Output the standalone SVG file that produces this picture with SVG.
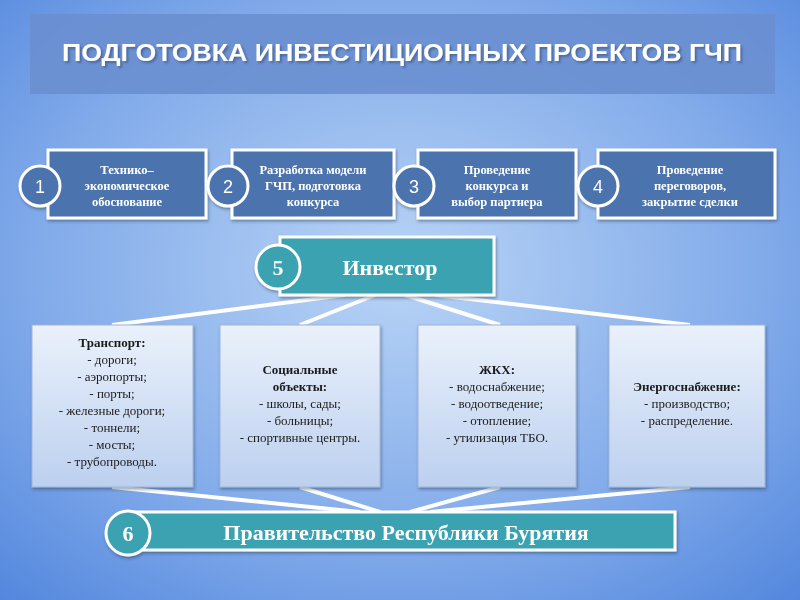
<svg xmlns="http://www.w3.org/2000/svg" width="800" height="600" viewBox="0 0 800 600">
<defs>
<radialGradient id="bg" cx="0.5" cy="0.45" r="0.75">
<stop offset="0" stop-color="#b9d4f6"/><stop offset="0.6" stop-color="#82abea"/><stop offset="1" stop-color="#5286dd"/>
</radialGradient>
<linearGradient id="cat" x1="0" y1="0" x2="0" y2="1"><stop offset="0" stop-color="#eaf1fb"/><stop offset="1" stop-color="#bcd0ef"/></linearGradient>
<filter id="sh" x="-10%" y="-10%" width="120%" height="130%"><feDropShadow dx="1" dy="2" stdDeviation="1.5" flood-color="#234" flood-opacity="0.45"/></filter>
<filter id="tsh" x="-5%" y="-20%" width="110%" height="150%"><feDropShadow dx="2" dy="2" stdDeviation="1" flood-color="#2a3f66" flood-opacity="0.5"/></filter>
</defs>
<style>
.step{fill:#4b73ad;stroke:#fff;stroke-width:3}
.circ{stroke:#fff;stroke-width:3}
.num{font-family:"Liberation Sans",Arial,sans-serif;font-size:18px;fill:#fff;text-anchor:middle}
.numS{font-family:"Liberation Serif",serif;font-size:22px;font-weight:bold;fill:#fff;text-anchor:middle}
.st{font-family:"Liberation Serif",serif;font-size:12.5px;font-weight:bold;fill:#fff;text-anchor:middle}
.teal{fill:#3aa2b2;stroke:#fff;stroke-width:3}
.cat{fill:url(#cat);stroke:#9fb6da;stroke-width:1}
.ct{font-family:"Liberation Serif",serif;font-size:13px;fill:#1a1a1a;text-anchor:middle}
.cb{font-weight:bold}
.conn{stroke:#fff;stroke-width:4;fill:none}
</style>
<rect width="800" height="600" fill="url(#bg)"/>
<g id="title">
<rect x="30" y="14" width="745" height="80" fill="#6a8fd0" opacity="0.9"/>
<text x="402" y="61" filter="url(#tsh)" font-family="Liberation Sans,Arial,sans-serif" font-size="24" font-weight="bold" fill="#fff" text-anchor="middle" textLength="680" lengthAdjust="spacingAndGlyphs">ПОДГОТОВКА ИНВЕСТИЦИОННЫХ ПРОЕКТОВ ГЧП</text>
</g>
<g id="connectors">
<path class="conn" d="M345 295 L112 325 M375 295 L300 325 M405 295 L500 325 M435 295 L690 325"/>
<path class="conn" d="M112 487 L360 512 M300 487 L380 512 M500 487 L410 512 M690 487 L430 512"/>
</g>
<g id="step1" filter="url(#sh)">
<rect class="step" x="48" y="150" width="158" height="68"/>
<circle class="circ" cx="40" cy="186" r="20" fill="#4b73ad"/>
<text class="num" x="40" y="193">1</text>
<text class="st" x="127" y="174">Технико–</text><text class="st" x="127" y="190">экономическое</text><text class="st" x="127" y="206">обоснование</text>
</g>
<g id="step2" filter="url(#sh)">
<rect class="step" x="232" y="150" width="162" height="68"/>
<circle class="circ" cx="228" cy="186" r="20" fill="#4b73ad"/>
<text class="num" x="228" y="193">2</text>
<text class="st" x="313" y="174">Разработка модели</text><text class="st" x="313" y="190">ГЧП, подготовка</text><text class="st" x="313" y="206">конкурса</text>
</g>
<g id="step3" filter="url(#sh)">
<rect class="step" x="418" y="150" width="158" height="68"/>
<circle class="circ" cx="414" cy="186" r="20" fill="#4b73ad"/>
<text class="num" x="414" y="193">3</text>
<text class="st" x="497" y="174">Проведение</text><text class="st" x="497" y="190">конкурса и</text><text class="st" x="497" y="206">выбор партнера</text>
</g>
<g id="step4" filter="url(#sh)">
<rect class="step" x="598" y="150" width="177" height="68"/>
<circle class="circ" cx="598" cy="186" r="20" fill="#4b73ad"/>
<text class="num" x="598" y="193">4</text>
<text class="st" x="690" y="174">Проведение</text><text class="st" x="690" y="190">переговоров,</text><text class="st" x="690" y="206">закрытие сделки</text>
</g>
<g id="investor" filter="url(#sh)">
<rect class="teal" x="280" y="237" width="214" height="58"/>
<circle class="circ" cx="278" cy="267" r="22" fill="#3aa2b2"/>
<text class="numS" x="278" y="275">5</text>
<text x="390" y="275" font-family="Liberation Serif,serif" font-size="22" font-weight="bold" fill="#fff" text-anchor="middle">Инвестор</text>
</g>
<g id="cat1" filter="url(#sh)">
<rect class="cat" x="32" y="325" width="161" height="162"/>
<text class="ct"><tspan class="cb" x="112" y="347">Транспорт:</tspan><tspan x="112" y="364">- дороги;</tspan><tspan x="112" y="381">- аэропорты;</tspan><tspan x="112" y="398">- порты;</tspan><tspan x="112" y="415">- железные дороги;</tspan><tspan x="112" y="432">- тоннели;</tspan><tspan x="112" y="449">- мосты;</tspan><tspan x="112" y="466">- трубопроводы.</tspan></text>
</g>
<g id="cat2" filter="url(#sh)">
<rect class="cat" x="220" y="325" width="160" height="162"/>
<text class="ct"><tspan class="cb" x="300" y="374">Социальные</tspan><tspan class="cb" x="300" y="391">объекты:</tspan><tspan x="300" y="408">- школы, сады;</tspan><tspan x="300" y="425">- больницы;</tspan><tspan x="300" y="442">- спортивные центры.</tspan></text>
</g>
<g id="cat3" filter="url(#sh)">
<rect class="cat" x="418" y="325" width="158" height="162"/>
<text class="ct"><tspan class="cb" x="497" y="374">ЖКХ:</tspan><tspan x="497" y="391">- водоснабжение;</tspan><tspan x="497" y="408">- водоотведение;</tspan><tspan x="497" y="425">- отопление;</tspan><tspan x="497" y="442">- утилизация ТБО.</tspan></text>
</g>
<g id="cat4" filter="url(#sh)">
<rect class="cat" x="609" y="325" width="156" height="162"/>
<text class="ct"><tspan class="cb" x="687" y="391">Энергоснабжение:</tspan><tspan x="687" y="408">- производство;</tspan><tspan x="687" y="425">- распределение.</tspan></text>
</g>
<g id="government" filter="url(#sh)">
<rect class="teal" x="130" y="512" width="545" height="38"/>
<circle class="circ" cx="128" cy="533" r="22" fill="#3aa2b2"/>
<text class="numS" x="128" y="541">6</text>
<text x="406" y="540" font-family="Liberation Sans,serif" font-size="22" font-weight="bold" fill="#fff" text-anchor="middle" style="font-family:'Liberation Serif',serif">Правительство Республики Бурятия</text>
</g>
</svg>
